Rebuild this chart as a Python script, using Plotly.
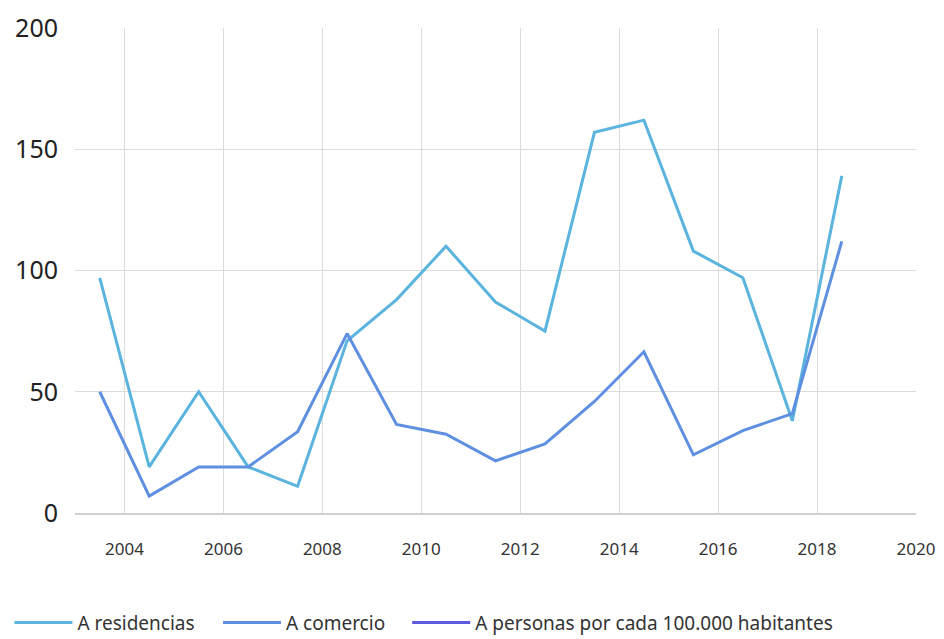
import plotly.graph_objects as go

years = [2003.5, 2004.5, 2005.5, 2006.5, 2007.5, 2008.5, 2009.5, 2010.5,
         2011.5, 2012.5, 2013.5, 2014.5, 2015.5, 2016.5, 2017.5, 2018.5]
residencias = [97, 19, 50, 19, 11, 71, 88, 110, 87, 75, 157, 162, 108, 97, 38, 139]
comercio = [50, 7, 19, 19, 33.5, 74, 36.5, 32.5, 21.5, 28.5, 46, 66.5, 24, 34, 41, 112]
personas = [None] * len(years)

names = ["A residencias", "A comercio", "A personas por cada 100.000 habitantes"]
colors = ["#5AB4DE", "#5F8FE0", "#5B5BDF"]
x_ticks = [2004, 2006, 2008, 2010, 2012, 2014, 2016, 2018, 2020]
y_ticks = [0, 50, 100, 150, 200]

legend_ids = ["legend", "legend2", "legend3"]
legend_x = [-0.078, 0.170, 0.395]

fig = go.Figure()
for name, vals, col, lid in zip(names, [residencias, comercio, personas], colors, legend_ids):
    fig.add_trace(go.Scatter(x=years, y=vals, name=name, mode="lines",
                             line=dict(color=col, width=3), legend=lid))

legend_style = dict(orientation="h", xanchor="left", y=-0.187, yanchor="top",
                    font=dict(size=19, color="#333"), itemwidth=58,
                    bgcolor="rgba(0,0,0,0)")
fig.update_layout(
    width=944, height=639,
    margin=dict(l=75, r=28, t=28, b=126, autoexpand=False),
    paper_bgcolor="white", plot_bgcolor="white",
    font=dict(family="Noto Sans", color="#333"),
    showlegend=True,
    legend=dict(x=legend_x[0], **legend_style),
    legend2=dict(x=legend_x[1], **legend_style),
    legend3=dict(x=legend_x[2], **legend_style),
)
fig.update_xaxes(range=[2003, 2020], tickvals=x_ticks, ticktext=[str(t) for t in x_ticks],
                 showgrid=True, gridcolor="#dcdcdc", gridwidth=1, automargin=False,
                 showline=True, linecolor="#cfcfcf", linewidth=1.5,
                 tickfont=dict(size=17, color="#333"), ticks="", ticklabelstandoff=20,
                 zeroline=False)
fig.update_yaxes(range=[0, 200], tickvals=y_ticks, automargin=False,
                 showgrid=True, gridcolor="#dcdcdc", gridwidth=1,
                 tickfont=dict(size=25, color="#222"), ticks="", ticklabelstandoff=16,
                 zeroline=False)

fig.write_html("out.html", config={"displayModeBar": False},
               post_script=["document.body.style.margin='0';document.body.style.overflow='hidden';"])
